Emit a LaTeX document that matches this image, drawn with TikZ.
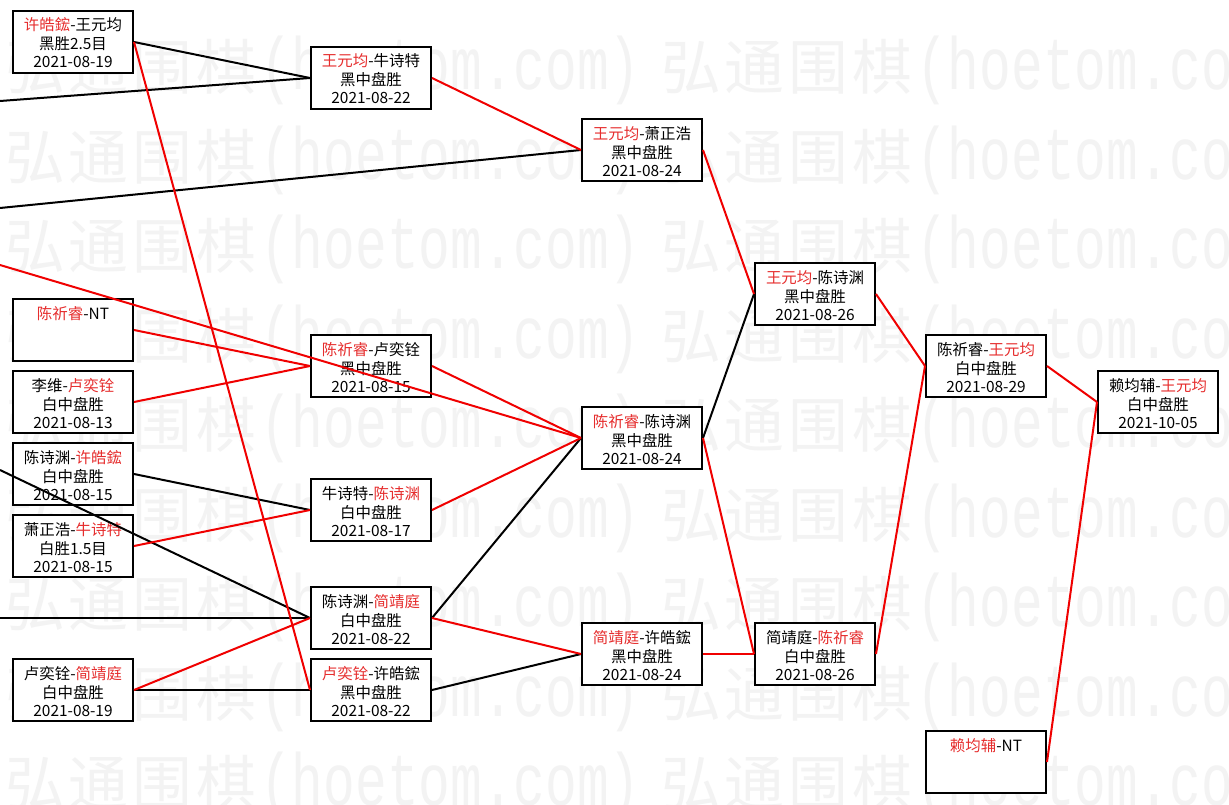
\documentclass[tikz,border=0pt]{standalone}
\usepackage{fontspec}
\usepackage{graphicx}
\setmainfont{Noto Sans CJK SC}
\newfontfamily\wmlat{Liberation Mono}
\definecolor{tred}{RGB}{230,45,45}
\definecolor{lred}{RGB}{240,0,0}
\definecolor{wm}{RGB}{243,243,243}
\newcommand\rd[1]{{\color{tred}#1}}
\tikzset{
  gbox/.style={draw=black, line width=2bp, fill=white, minimum width=120bp, minimum height=62bp, inner sep=0pt, outer sep=1bp},
  gtxt/.style={anchor=base, inner sep=0pt, font=\fontsize{15.5}{19}\selectfont, text=black},
  rline/.style={draw=lred, line width=2bp},
  bline/.style={draw=black, line width=2bp},
  wmark/.style={anchor=base west, inner sep=0pt, text=wm},
}
\newcommand\game[6]{%
  \node[gbox] (#1) at ({#2},{#3+32}) {};
  \node[gtxt] (#1a) at ({#2},{#3+21}) {#4};
  \node[gtxt] (#1b) at ({#2},{#3+40}) {#5};
  \node[gtxt] (#1c) at ({#2},{#3+58}) {#6};
}
\newcommand\wmtext{{\fontsize{60}{60}\selectfont 弘\kern4bp 通\kern4bp 围\kern4bp 棋\kern4bp}\scalebox{1}[1.4]{\fontsize{53}{53}\wmlat (hoetom.com)}}
\begin{document}
\begin{tikzpicture}[x=1bp,y=-1bp]
\useasboundingbox (0,0) rectangle (1229,805);
\fill[white] (0,0) rectangle (1229,805);
% watermark
\foreach \k in {0,...,8}{
  \node[wmark] (wa\k) at (5,{89.5+89.5*\k}) {\wmtext};
  \node[wmark] (wb\k) at (661,{89.5+89.5*\k}) {\wmtext};
}
% column A
\game{A1}{73}{10}{\rd{许皓鋐}-王元均}{黑胜2.5目}{2021-08-19}
\game{A2}{73}{298}{\rd{陈祈睿}-NT}{}{}
\game{A3}{73}{370}{李维-\rd{卢奕铨}}{白中盘胜}{2021-08-13}
\game{A4}{73}{442}{陈诗渊-\rd{许皓鋐}}{白中盘胜}{2021-08-15}
\game{A5}{73}{514}{萧正浩-\rd{牛诗特}}{白胜1.5目}{2021-08-15}
\game{A6}{73}{658}{卢奕铨-\rd{简靖庭}}{白中盘胜}{2021-08-19}
% column B
\game{B1}{371}{46}{\rd{王元均}-牛诗特}{黑中盘胜}{2021-08-22}
\game{B2}{371}{334}{\rd{陈祈睿}-卢奕铨}{黑中盘胜}{2021-08-15}
\game{B3}{371}{478}{牛诗特-\rd{陈诗渊}}{白中盘胜}{2021-08-17}
\game{B4}{371}{586}{陈诗渊-\rd{简靖庭}}{白中盘胜}{2021-08-22}
\game{B5}{371}{658}{\rd{卢奕铨}-许皓鋐}{黑中盘胜}{2021-08-22}
% column C
\game{C1}{642}{118}{\rd{王元均}-萧正浩}{黑中盘胜}{2021-08-24}
\game{C2}{642}{406}{\rd{陈祈睿}-陈诗渊}{黑中盘胜}{2021-08-24}
\game{C3}{642}{622}{\rd{简靖庭}-许皓鋐}{黑中盘胜}{2021-08-24}
% column D
\game{D1}{815}{262}{\rd{王元均}-陈诗渊}{黑中盘胜}{2021-08-26}
\game{D2}{815}{622}{简靖庭-\rd{陈祈睿}}{白中盘胜}{2021-08-26}
% column E
\game{E1}{986}{334}{陈祈睿-\rd{王元均}}{白中盘胜}{2021-08-29}
\game{E2}{986}{730}{\rd{赖均辅}-NT}{}{}
% column F
\game{F1}{1158}{370}{赖均辅-\rd{王元均}}{白中盘胜}{2021-10-05}
% free ends at the left edge
\coordinate (L1) at (0,101);
\coordinate (L2) at (0,208);
\coordinate (L3) at (0,265);
\coordinate (L4) at (0,470);
\coordinate (L5) at (0,618);
% black connectors
\draw[bline] (A1.east) -- (B1.west);
\draw[bline] (L1) -- (B1.west);
\draw[bline] (L2) -- (C1.west);
\draw[bline] (A4.east) -- (B3.west);
\draw[bline] (L4) -- (B4.west);
\draw[bline] (L5) -- (B4.west);
\draw[bline] (A6.east) -- (B5.west);
\draw[bline] (B4.east) -- (C2.west);
\draw[bline] (B5.east) -- (C3.west);
\draw[bline] (C2.east) -- (D1.west);
% red connectors
\draw[rline] (A1.east) -- (B5.west);
\draw[rline] (L3) -- (C2.west);
\draw[rline] (A2.east) -- (B2.west);
\draw[rline] (A3.east) -- (B2.west);
\draw[rline] (A5.east) -- (B3.west);
\draw[rline] (A6.east) -- (B4.west);
\draw[rline] (B1.east) -- (C1.west);
\draw[rline] (B2.east) -- (C2.west);
\draw[rline] (B3.east) -- (C2.west);
\draw[rline] (B4.east) -- (C3.west);
\draw[rline] (C1.east) -- (D1.west);
\draw[rline] (C2.east) -- (D2.west);
\draw[rline] (C3.east) -- (D2.west);
\draw[rline] (D1.east) -- (E1.west);
\draw[rline] (D2.east) -- (E1.west);
\draw[rline] (E1.east) -- (F1.west);
\draw[rline] (E2.east) -- (F1.west);
\end{tikzpicture}
\end{document}
